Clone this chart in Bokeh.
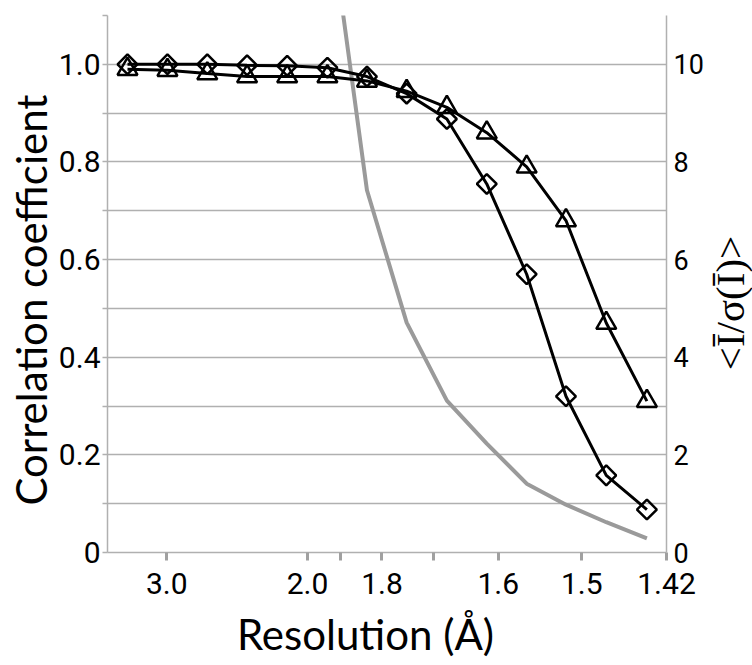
import math
from bokeh.plotting import figure
from bokeh.models import Range1d, LinearAxis, FixedTicker, Label
from bokeh.layouts import row
from bokeh.embed import file_html
from bokeh.resources import INLINE

# Resolution (Å) of each shell centre (equal-volume shells)
resolution = [4.31, 2.989, 2.522, 2.255, 2.073, 1.938, 1.834, 1.749, 1.677, 1.616, 1.563, 1.517, 1.475, 1.437]
# correlation coefficient, diamond series
cc_diamond = [1.0, 1.0, 1.0, 0.998, 0.997, 0.993, 0.975, 0.94, 0.888, 0.755, 0.57, 0.32, 0.158, 0.088]
# correlation coefficient, triangle series
cc_triangle = [0.99, 0.988, 0.981, 0.975, 0.975, 0.975, 0.966, 0.945, 0.912, 0.86, 0.79, 0.68, 0.47, 0.31]
# <I/sigma(I)> (right axis); first values are above the axis range
i_sigma = [42.0, 33.5, 26.1, 20.3, 16.2, 13.4, 7.42, 4.71, 3.11, 2.23, 1.41, 0.98, 0.62, 0.29]

# x-axis tick resolutions and labels
tick_res = [3.0, 2.0, 1.9, 1.8, 1.7, 1.6, 1.5, 1.42]
tick_labels = ["3.0", "2.0", "", "1.8", "", "1.6", "1.5", "1.42"]

left_major = [0.0, 0.2, 0.4, 0.6, 0.8, 1.0]
left_labels = ["0", "0.2", "0.4", "0.6", "0.8", "1.0"]
left_minor = [0.1, 0.3, 0.5, 0.7, 0.9, 1.1]
right_major = [0, 2, 4, 6, 8, 10]

x_title = "Resolution (Å)"
y_title = "Correlation coefficient"
y2_title = "<Ī/σ(Ī)>"

NB = "\u00a0"

def inv3(d):
    return 1.0 / d ** 3

xs = [inv3(d) for d in resolution]
xticks = [inv3(d) for d in tick_res]

GRAY = "#b0b0b0"
TICKFONT = "Roboto"
TITLEFONT = "Lato"

p = figure(width=706, height=665, output_backend="svg", toolbar_location=None,
           x_range=Range1d(0, inv3(1.42)), y_range=Range1d(0, 1.1),
           min_border_left=107, min_border_right=37, min_border_top=15, min_border_bottom=113)
p.outline_line_color = None
p.background_fill_color = "white"
p.border_fill_color = "white"
p.extra_y_ranges = {"isig": Range1d(0, 11)}

# grid
p.xgrid.grid_line_color = None
p.ygrid.grid_line_color = GRAY
p.ygrid.grid_line_width = 1.5
p.ygrid.minor_grid_line_color = GRAY
p.ygrid.minor_grid_line_width = 1.5

# x axis
xa = p.xaxis[0]
xa.ticker = FixedTicker(ticks=xticks)
xa.major_label_overrides = {t: l for t, l in zip(xticks, tick_labels)}
xa.axis_line_color = GRAY
xa.axis_line_width = 1.5
xa.major_tick_line_color = "#a0a0a0"
xa.major_tick_line_width = 3
xa.major_tick_out = 8
xa.major_tick_in = 0
xa.minor_tick_line_color = None
xa.major_label_text_font = TICKFONT
xa.major_label_text_font_size = "30px"
xa.major_label_text_color = "black"
xa.major_label_standoff = 12
xa.axis_label = x_title + NB * 4
xa.axis_label_text_font = TITLEFONT
xa.axis_label_text_font_style = "normal"
xa.axis_label_text_font_size = "42px"
xa.axis_label_text_color = "black"
xa.axis_label_standoff = 12

# left axis
ya = p.yaxis[0]
ya.ticker = FixedTicker(ticks=left_major, minor_ticks=left_minor)
ya.major_label_overrides = {t: l for t, l in zip(left_major, left_labels)}
ya.axis_line_color = GRAY
ya.axis_line_width = 1.5
ya.major_tick_line_color = GRAY
ya.major_tick_line_width = 1.5
ya.major_tick_out = 5
ya.major_tick_in = 0
ya.minor_tick_line_color = GRAY
ya.minor_tick_line_width = 1.5
ya.minor_tick_out = 5
ya.minor_tick_in = 0
ya.major_label_text_font = TICKFONT
ya.major_label_text_font_size = "30px"
ya.major_label_text_color = "black"
ya.major_label_standoff = 2
ya.axis_label = y_title + NB * 3
ya.axis_label_text_font = TITLEFONT
ya.axis_label_text_font_style = "normal"
ya.axis_label_text_font_size = "42px"
ya.axis_label_text_color = "black"
ya.axis_label_standoff = 0

# right axis
ra = LinearAxis(y_range_name="isig", ticker=FixedTicker(ticks=right_major))
ra.axis_line_color = GRAY
ra.axis_line_width = 1.5
ra.major_tick_line_color = None
ra.major_tick_out = 0
ra.major_tick_in = 0
ra.minor_tick_line_color = None
ra.major_label_text_font = TICKFONT
ra.major_label_text_font_size = "27px"
ra.major_label_text_color = "black"
ra.major_label_standoff = 7
p.add_layout(ra, "right")

# gray I/sigma line
p.line(xs, i_sigma, y_range_name="isig", line_color="#9a9a9a", line_width=4)

# correlation series
p.line(xs, cc_triangle, line_color="black", line_width=3)
p.scatter(xs, cc_triangle, marker="triangle", size=20, line_color="black", line_width=2.5,
          fill_color=None)
p.line(xs, cc_diamond, line_color="black", line_width=3)
p.scatter(xs, cc_diamond, marker="square", angle=math.pi / 4, size=14, line_color="black",
          line_width=2.5, fill_color=None)

# narrow strip holding the right-axis title (reads bottom to top)
p2 = figure(width=46, height=665, output_backend="svg", toolbar_location=None,
            x_range=Range1d(0, 46), y_range=Range1d(0, 665),
            x_axis_location=None, y_axis_location=None,
            min_border_left=0, min_border_right=0, min_border_top=0, min_border_bottom=0)
p2.outline_line_color = None
p2.grid.visible = False
p2.background_fill_color = "white"
p2.border_fill_color = "white"
p2.add_layout(Label(x=23, y=309, text=y2_title, angle=math.pi / 2,
                    text_font="Liberation Serif", text_font_size="41px", text_color="black",
                    text_align="center", text_baseline="middle"))

layout = row(p, p2, spacing=0)
open("out.html", "w").write(file_html(layout, INLINE))
